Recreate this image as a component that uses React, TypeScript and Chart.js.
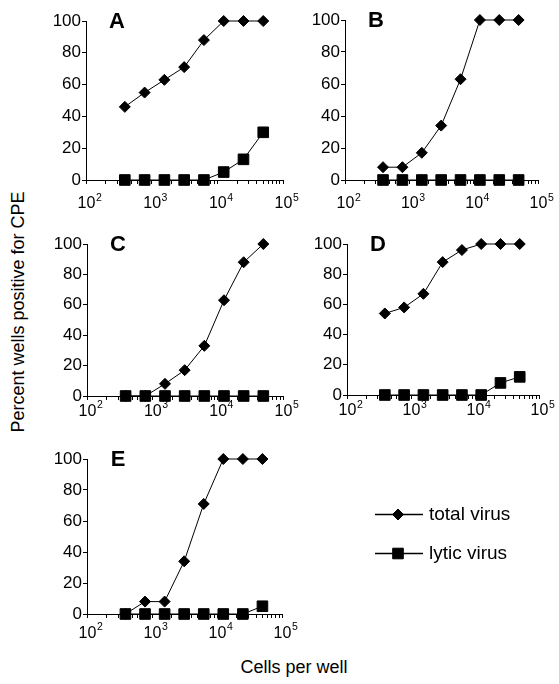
import React, { useEffect, useRef } from 'react';
import { Chart, registerables } from 'chart.js';

Chart.register(...registerables);

// ---- data ----
const cellsPerWell = [390, 781, 1563, 3125, 6250, 12500, 25000, 50000];

const totalA = [46, 55, 63, 71, 88, 100, 100, 100];
const lyticA = [0, 0, 0, 0, 0, 5, 13, 30];

const totalB = [8, 8, 17, 34, 63, 100, 100, 100];
const lyticB = [0, 0, 0, 0, 0, 0, 0, 0];

const totalC = [0, 0, 8, 17, 33, 63, 88, 100];
const lyticC = [0, 0, 0, 0, 0, 0, 0, 0];

const totalD = [54, 58, 67, 88, 96, 100, 100, 100];
const lyticD = [0, 0, 0, 0, 0, 0, 8, 12];

const totalE = [0, 8, 8, 34, 71, 100, 100, 100];
const lyticE = [0, 0, 0, 0, 0, 0, 0, 5];

const seriesNames = ['total virus', 'lytic virus'];
const yTickValues = [0, 20, 40, 60, 80, 100];
const xMajorValues = [100, 1000, 10000, 100000];
const xMajorBase = '10';
const xMajorExponents = ['2', '3', '4', '5'];
const xTitle = 'Cells per well';
const yTitle = 'Percent wells positive for CPE';

const FONT = '"Liberation Sans", Arial, Helvetica, sans-serif';
const YW = 44;
const PT = 14;
const PR = 22;
const XH = 40;

type Area = { left: number; top: number; right: number; bottom: number };

function buildXTicks() {
  const t: { value: number; major: boolean }[] = [];
  for (let e = 2; e < 5; e++) {
    for (let s = 1; s < 10; s++) {
      t.push({ value: s * Math.pow(10, e), major: s === 1 });
    }
  }
  t.push({ value: 100000, major: true });
  return t;
}

function drawMarker(ctx: CanvasRenderingContext2D, style: string, x: number, y: number, r: number) {
  ctx.beginPath();
  if (style === 'rectRot') {
    ctx.moveTo(x - r, y);
    ctx.lineTo(x, y - r);
    ctx.lineTo(x + r, y);
    ctx.lineTo(x, y + r);
    ctx.closePath();
  } else {
    const s = r * Math.SQRT1_2;
    ctx.rect(x - s, y - s, 2 * s, 2 * s);
  }
  ctx.fillStyle = '#000';
  ctx.fill();
  ctx.lineWidth = 1;
  ctx.strokeStyle = '#000';
  ctx.stroke();
}

type PanelProps = {
  letter: string;
  total: number[];
  lytic: number[];
  area: Area;
  labelBase: number;
  legend?: boolean;
};

function Panel({ letter, total, lytic, area, labelBase, legend }: PanelProps) {
  const ref = useRef<HTMLCanvasElement | null>(null);
  const cLeft = area.left - YW;
  const cTop = area.top - PT;
  const plotW = area.right - area.left;
  const plotH = area.bottom - area.top;
  const width = legend ? 559 - cLeft : plotW + YW + PR;
  const height = plotH + PT + XH;
  const padRight = width - YW - plotW;

  useEffect(() => {
    if (!ref.current) return;
    const letterPlugin = {
      id: 'panelLetter',
      afterDraw(chart: any) {
        const { ctx, chartArea } = chart;
        ctx.save();
        ctx.font = `bold 22px ${FONT}`;
        ctx.fillStyle = '#000';
        ctx.textAlign = 'center';
        ctx.textBaseline = 'middle';
        ctx.fillText(letter, chartArea.left + 31, chartArea.top + 1);
        ctx.restore();
      },
    };
    const xLabelPlugin = {
      id: 'xPowerLabels',
      afterDraw(chart: any) {
        const { ctx, chartArea } = chart;
        const xs = chart.scales.x;
        ctx.save();
        ctx.fillStyle = '#000';
        ctx.textBaseline = 'alphabetic';
        xMajorValues.forEach((v, i) => {
          const px = xs.getPixelForValue(v);
          const by = chartArea.bottom + labelBase;
          ctx.font = `16px ${FONT}`;
          const w = ctx.measureText(xMajorBase).width;
          ctx.textAlign = 'left';
          const x0 = px - w / 2 + 0.5;
          ctx.fillText(xMajorBase, x0, by);
          ctx.font = `10.5px ${FONT}`;
          ctx.fillText(xMajorExponents[i], x0 + w + 0.5, by - 7.3);
        });
        ctx.restore();
      },
    };
    const legendPlugin = {
      id: 'customLegend',
      afterDraw(chart: any) {
        if (!legend) return;
        const { ctx, chartArea } = chart;
        const styles = ['rectRot', 'rect'];
        const radii = [5.5, 7.5];
        const rows = [55.5, 94.5];
        ctx.save();
        seriesNames.forEach((name, i) => {
          const y = chartArea.top + rows[i];
          const x0 = chartArea.right + 93;
          ctx.beginPath();
          ctx.moveTo(x0, y);
          ctx.lineTo(x0 + 48, y);
          ctx.lineWidth = 1.5;
          ctx.strokeStyle = '#000';
          ctx.stroke();
          drawMarker(ctx, styles[i], x0 + 23, y, radii[i]);
          ctx.font = `19px ${FONT}`;
          ctx.fillStyle = '#000';
          ctx.textAlign = 'left';
          ctx.textBaseline = 'middle';
          ctx.fillText(name, x0 + 54, y);
        });
        ctx.restore();
      },
    };

    const chart = new Chart(ref.current, {
      type: 'line',
      data: {
        labels: cellsPerWell,
        datasets: [
          {
            label: seriesNames[0],
            data: cellsPerWell.map((x, i) => ({ x, y: total[i] })),
            borderColor: '#000',
            borderWidth: 1,
            pointStyle: 'rectRot',
            pointRadius: 5.5,
            pointBackgroundColor: '#000',
            pointBorderColor: '#000',
            pointBorderWidth: 1,
            tension: 0,
            clip: false,
            order: 1,
          },
          {
            label: seriesNames[1],
            data: cellsPerWell.map((x, i) => ({ x, y: lytic[i] })),
            borderColor: '#000',
            borderWidth: 1,
            pointStyle: 'rect',
            pointRadius: 7.5,
            pointBackgroundColor: '#000',
            pointBorderColor: '#000',
            pointBorderWidth: 1,
            tension: 0,
            clip: false,
            order: 0,
          },
        ],
      },
      options: {
        animation: false,
        responsive: false,
        devicePixelRatio: 1,
        layout: { padding: { top: PT, right: padRight, left: 0, bottom: 0 } },
        plugins: { legend: { display: false }, tooltip: { enabled: false } },
        scales: {
          x: {
            type: 'logarithmic',
            min: 100,
            max: 100000,
            afterBuildTicks: (scale: any) => {
              scale.ticks = buildXTicks();
            },
            afterFit: (scale: any) => {
              scale.height = XH;
              scale.paddingLeft = 0;
              scale.paddingRight = 0;
            },
            ticks: {
              autoSkip: false,
              maxRotation: 0,
              minRotation: 0,
              color: '#000',
              font: { family: FONT, size: 16 },
              callback: () => '',
            },
            grid: {
              drawOnChartArea: false,
              drawTicks: true,
              tickLength: 4,
              tickColor: '#000',
              tickWidth: 1,
            },
            border: { display: true, color: '#000', width: 1 },
          },
          y: {
            type: 'linear',
            min: 0,
            max: 100,
            afterBuildTicks: (scale: any) => {
              scale.ticks = yTickValues.map((v) => ({ value: v }));
            },
            afterFit: (scale: any) => {
              scale.width = YW;
              scale.paddingTop = 0;
              scale.paddingBottom = 0;
            },
            ticks: {
              padding: 1,
              color: '#000',
              font: { family: FONT, size: 17 },
            },
            grid: {
              drawOnChartArea: false,
              drawTicks: true,
              tickLength: 4,
              tickColor: '#000',
              tickWidth: 1,
            },
            border: { display: true, color: '#000', width: 1 },
          },
        },
      } as any,
      plugins: [letterPlugin, xLabelPlugin, legendPlugin],
    });
    return () => chart.destroy();
  }, [letter, total, lytic, labelBase, legend, padRight]);

  return (
    <canvas
      ref={ref}
      width={width}
      height={height}
      style={{ position: 'absolute', left: cLeft, top: cTop, width, height }}
    />
  );
}

export default function App() {
  return (
    <div
      style={{
        position: 'absolute',
        left: 0,
        top: 0,
        width: 559,
        height: 684,
        background: '#fff',
        fontFamily: FONT,
        color: '#000',
        overflow: 'hidden',
      }}
    >
      <Panel letter="A" total={totalA} lytic={lyticA} area={{ left: 86, top: 20.5, right: 283, bottom: 180 }} labelBase={28.3} />
      <Panel letter="B" total={totalB} lytic={lyticB} area={{ left: 345, top: 20, right: 538, bottom: 180 }} labelBase={28.3} />
      <Panel letter="C" total={totalC} lytic={lyticC} area={{ left: 87, top: 243.5, right: 283, bottom: 396 }} labelBase={19.5} />
      <Panel letter="D" total={totalD} lytic={lyticD} area={{ left: 346.5, top: 243.5, right: 539, bottom: 395 }} labelBase={20} />
      <Panel letter="E" total={totalE} lytic={lyticE} area={{ left: 87, top: 458.5, right: 282, bottom: 614 }} labelBase={23.5} legend />
      <div
        style={{
          position: 'absolute',
          left: 18,
          top: 312,
          transform: 'translate(-50%, -50%) rotate(-90deg)',
          whiteSpace: 'nowrap',
          fontSize: 18,
        }}
      >
        {yTitle}
      </div>
      <div
        style={{
          position: 'absolute',
          left: 294,
          top: 667,
          transform: 'translate(-50%, -50%)',
          whiteSpace: 'nowrap',
          fontSize: 18,
        }}
      >
        {xTitle}
      </div>
    </div>
  );
}
